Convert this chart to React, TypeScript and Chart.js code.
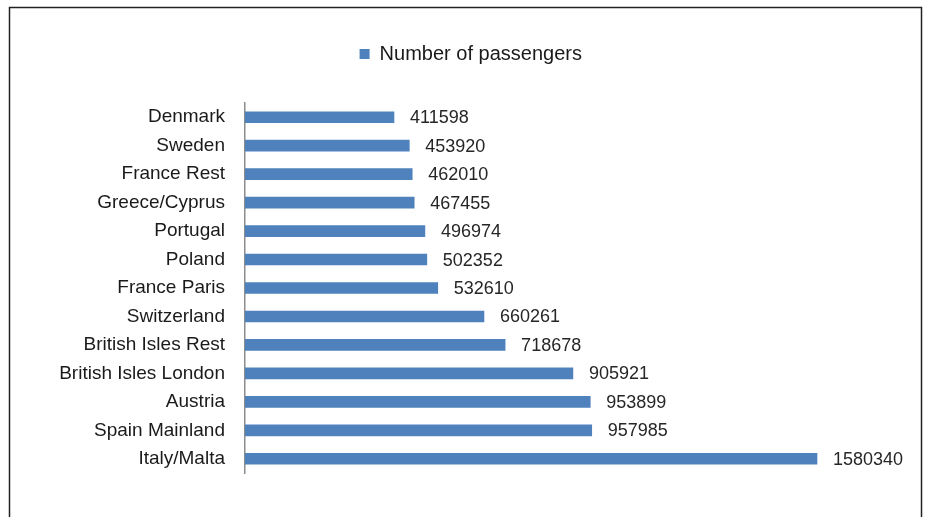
import React, { useEffect, useRef } from "react";
import { Chart, registerables } from "chart.js";

Chart.register(...registerables);

const categories = [
  "Denmark",
  "Sweden",
  "France Rest",
  "Greece/Cyprus",
  "Portugal",
  "Poland",
  "France Paris",
  "Switzerland",
  "British Isles Rest",
  "British Isles London",
  "Austria",
  "Spain Mainland",
  "Italy/Malta",
];

const passengers = [
  411598, 453920, 462010, 467455, 496974, 502352, 532610, 660261, 718678,
  905921, 953899, 957985, 1580340,
];

const seriesName = "Number of passengers";
const BAR_COLOR = "#4F81BD";
const FONT = "'Liberation Sans', Arial, sans-serif";

const framePlugin = {
  id: "frame",
  beforeDraw(chart: any) {
    const ctx = chart.ctx;
    ctx.save();
    ctx.fillStyle = "#ffffff";
    ctx.fillRect(0, 0, chart.width, chart.height);
    ctx.strokeStyle = "#222222";
    ctx.lineWidth = 1.5;
    ctx.strokeRect(9.5, 7.5, 912, chart.height + 20);
    ctx.restore();
  },
};

const legendGapPlugin = {
  id: "legendGap",
  afterInit(chart: any) {
    const legend = chart.legend;
    if (!legend) return;
    const origFit = legend.fit;
    legend.fit = function () {
      origFit.call(this);
      this.height += 29;
    };
  },
};

const valueLabelPlugin = {
  id: "valueLabels",
  afterDatasetsDraw(chart: any) {
    const ctx = chart.ctx;
    const meta = chart.getDatasetMeta(0);
    const data = chart.data.datasets[0].data as number[];
    ctx.save();
    ctx.font = `18px ${FONT}`;
    ctx.fillStyle = "#262626";
    ctx.textAlign = "left";
    ctx.textBaseline = "middle";
    meta.data.forEach((bar: any, i: number) => {
      ctx.fillText(String(data[i]), bar.x + 16, bar.y + 1);
    });
    ctx.restore();
  },
};

export default function App() {
  const canvasRef = useRef<HTMLCanvasElement | null>(null);

  useEffect(() => {
    document.body.style.margin = "0";
    const canvas = canvasRef.current;
    if (!canvas) return;
    const chart = new Chart(canvas, {
      type: "bar",
      data: {
        labels: categories,
        datasets: [
          {
            label: seriesName,
            data: passengers,
            backgroundColor: BAR_COLOR,
            borderWidth: 0,
            barThickness: 11,
          },
        ],
      },
      options: {
        indexAxis: "y",
        responsive: false,
        animation: false,
        devicePixelRatio: 1,
        layout: { padding: { top: 34, right: 29.5, bottom: 44, left: 45 } },
        plugins: {
          legend: {
            display: true,
            position: "top",
            labels: {
              boxWidth: 10,
              boxHeight: 10,
              padding: 10,
              color: "#1a1a1a",
              font: { family: FONT, size: 20 },
            },
          },
          tooltip: { enabled: false },
        },
        scales: {
          x: {
            display: false,
            min: 0,
            max: 1800000,
          },
          y: {
            display: true,
            grid: { display: false, drawTicks: false },
            border: { display: true, color: "#8c8c8c", width: 1.5 },
            ticks: {
              color: "#1a1a1a",
              padding: 20,
              font: { family: FONT, size: 19 },
            },
            afterFit(scale: any) {
              scale.width = 200;
            },
          },
        },
      },
      plugins: [framePlugin, legendGapPlugin, valueLabelPlugin],
    });
    return () => chart.destroy();
  }, []);

  return (
    <div style={{ width: 926, height: 517 }}>
      <canvas ref={canvasRef} width={926} height={517} />
    </div>
  );
}
